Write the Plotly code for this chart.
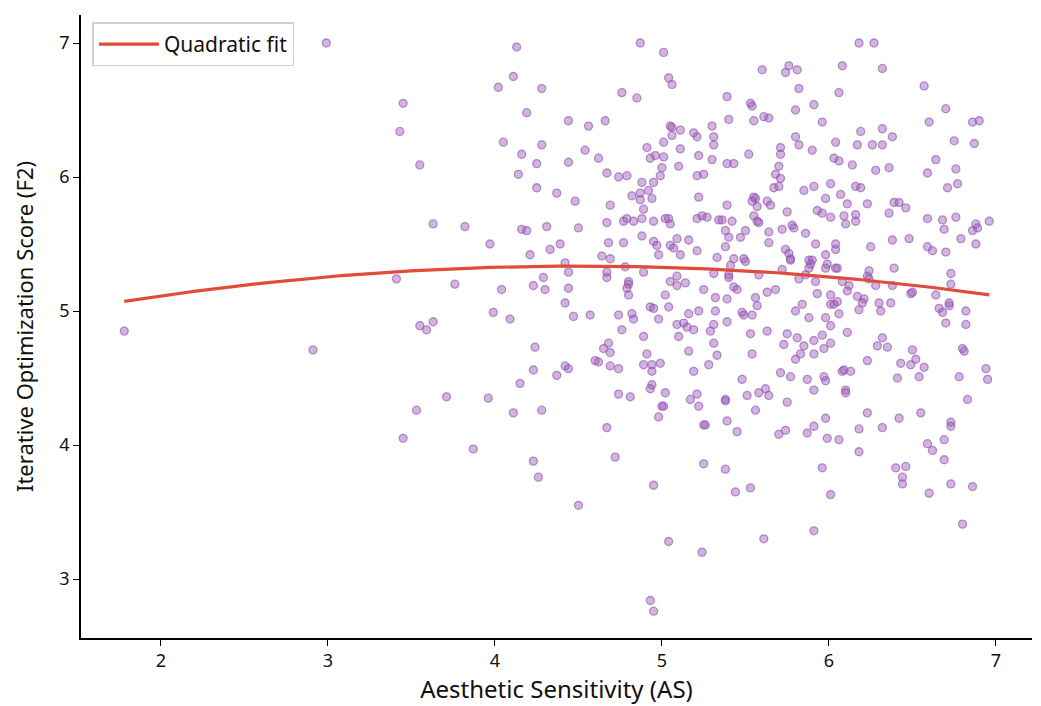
import numpy as np
import plotly.graph_objects as go

# Aesthetic Sensitivity (AS) values
AS = [
    2.99, 1.78, 2.91, 3.41,
    4.13, 4.87, 5.01, 5.04, 5.06, 4.11, 4.02, 4.28, 4.76, 4.85, 3.45, 4.19, 4.44, 4.56, 4.66, 3.43,
    5.05, 5.06, 5.11, 5.06, 5.19, 5.21, 5.30, 5.31, 5.31, 4.05, 4.28, 4.16, 4.25, 4.44, 4.54, 4.62,
    3.55, 4.14, 4.67, 4.74, 4.79, 4.91, 4.93, 4.96, 5.01, 5.01, 5.11, 5.10, 5.22, 5.30, 5.00, 4.99,
    5.21, 5.25, 4.88, 4.95, 4.92, 4.87, 4.82, 4.87, 4.94, 5.22, 4.25, 4.37, 4.48, 4.69, 4.89,
    3.63, 3.82, 4.16, 4.19, 4.31, 4.50, 4.67, 4.77, 4.79, 4.83, 4.88, 4.95, 5.02, 5.04, 5.05, 5.21,
    5.24, 5.27, 5.34,
    4.88, 4.95, 4.97, 5.05, 5.07, 5.09, 5.16, 5.21, 4.68, 4.77, 4.98, 5.11, 5.33, 3.97, 4.21, 4.33,
    4.39, 4.64, 4.69, 4.42, 4.44, 4.67, 4.67, 4.78, 4.89, 5.31, 3.76, 4.04, 4.23, 4.29, 4.30, 4.44,
    4.42, 4.80, 4.80, 4.79, 4.80, 5.05, 5.09, 5.09, 5.14, 5.25, 5.02, 5.32, 4.93, 4.95, 5.04, 5.32,
    3.99, 4.09, 4.47, 4.57, 4.74, 4.82, 4.83, 4.98, 5.16, 5.22, 3.55, 3.59, 3.63, 4.76, 5.09, 5.13,
    5.15, 5.19, 5.29, 5.31, 4.89, 5.10, 4.68, 4.65, 4.69, 5.31, 4.24, 4.91, 5.16, 5.33, 4.60, 4.62,
    4.69, 4.74, 4.42, 4.44, 4.23, 4.37, 4.15, 4.89, 4.94, 4.99, 4.94, 5.19, 5.28, 4.94, 4.93, 5.02,
    4.74, 4.81, 5.21, 5.17, 5.22, 5.00, 5.01, 4.98, 5.25, 5.26, 4.67, 3.71, 3.96, 3.53, 4.11, 4.28,
    6.18, 6.27, 5.60, 5.76, 5.74, 5.81, 6.08, 6.32, 5.82, 6.06, 6.57, 5.39, 5.53, 5.54, 5.91, 5.80,
    6.70, 5.40, 5.55, 5.61, 5.64, 5.96, 6.60, 6.86, 6.90, 6.19, 6.32, 6.38, 5.80, 5.82, 6.04, 6.17,
    6.26, 6.32, 5.71, 5.71, 5.52, 5.90, 6.75, 6.87, 6.03, 6.06, 6.14, 6.64, 5.39, 5.43, 5.70, 6.28,
    6.36, 6.76, 6.59, 5.68, 5.71, 5.67, 5.70, 5.85, 5.91, 6.01, 6.16, 6.19, 6.71, 6.77, 5.55, 5.56,
    5.54, 5.57, 5.63, 5.65, 5.39, 5.75, 5.98, 6.07, 6.11, 6.23, 5.93, 5.96, 6.01, 6.09, 6.16, 6.16,
    6.10, 6.36, 6.39, 6.42, 6.46, 6.59, 6.68, 6.76, 6.88, 6.96, 5.55, 5.57, 5.58, 5.36, 5.42, 5.78,
    5.38, 5.40, 5.47, 5.50, 5.64, 5.72, 5.79, 5.86, 5.64, 5.38, 5.92, 6.04, 6.04, 6.25, 6.38, 6.48,
    6.59, 6.62, 6.70, 6.69, 6.79, 6.88, 6.86, 6.89, 5.74, 5.76, 5.77, 5.77, 5.43, 5.49, 5.50, 5.98,
    5.88, 5.90, 5.89, 5.88, 5.99, 5.98, 6.04, 6.05, 5.41, 5.40, 5.40, 5.58, 5.72, 5.82, 5.86, 5.92,
    6.08, 6.24, 6.23, 6.24, 6.28, 6.39, 6.38, 6.73, 6.73, 6.12, 6.11, 5.43, 5.45, 5.63, 5.68, 5.93,
    6.01, 6.49, 6.50, 6.64, 5.56, 5.57, 5.39, 6.17, 6.21, 6.20, 6.18, 6.30, 6.31, 6.37, 6.01, 6.03,
    6.05, 5.84, 5.80, 6.06, 5.88, 5.98, 6.01, 5.48, 5.49, 5.54, 5.39, 6.66, 6.68, 6.72, 6.72, 6.82,
    6.70, 6.82, 5.53, 5.63, 5.75, 5.81, 5.85, 5.73, 5.91, 5.96, 6.01, 6.11, 5.97, 5.83, 5.91, 5.80,
    5.54, 6.32, 6.29, 6.35, 6.50, 6.52, 6.43, 6.49, 6.57, 6.23, 6.80, 6.81, 6.94, 6.95, 6.78, 6.54,
    6.41, 6.08, 6.09, 6.13, 5.97, 5.98, 5.87, 5.77, 5.71, 5.48, 5.91, 6.10, 6.10, 5.62, 5.58, 5.64,
    5.51, 5.38, 5.38, 5.75, 6.83, 5.56, 5.39, 6.23, 6.42, 6.55, 5.98, 5.91, 5.74, 5.70, 5.87, 6.18,
    6.32, 6.73, 6.73, 5.45,
    5.99, 6.06, 6.18, 6.59, 6.62, 6.69, 6.69, 5.38, 5.96, 6.40, 6.46, 6.44, 6.44, 6.60, 6.73, 6.86,
    5.44, 5.53, 6.01, 6.80, 5.61, 5.91,
    3.45, 3.87, 4.23, 4.26, 4.50, 4.72, 4.95, 5.25, 5.04, 5.24, 4.93, 4.95,
]

# Iterative Optimization Score (F2) values
F2 = [
    7.00, 4.85, 4.71, 5.24,
    6.97, 7.00, 6.93, 6.74, 6.69, 6.75, 6.67, 6.66, 6.63, 6.59, 6.55, 6.48, 6.42, 6.38, 6.42, 6.34,
    6.38, 6.37, 6.35, 6.31, 6.33, 6.30, 6.38, 6.30, 6.24, 6.26, 6.24, 6.17, 6.10, 6.11, 6.20, 6.14,
    6.09, 6.02, 6.03, 6.00, 6.01, 6.22, 6.14, 6.16, 6.15, 6.26, 6.21, 6.08, 6.16, 6.13, 6.07, 6.01,
    6.01, 6.02, 5.96, 5.96, 5.90, 5.88, 5.86, 5.83, 5.84, 5.85, 5.92, 5.88, 5.82, 5.79, 5.76,
    5.65, 5.63, 5.61, 5.60, 5.63, 5.62, 5.66, 5.67, 5.69, 5.67, 5.69, 5.67, 5.69, 5.69, 5.65, 5.69,
    5.71, 5.70, 5.68,
    5.56, 5.52, 5.49, 5.49, 5.47, 5.54, 5.53, 5.45, 5.51, 5.51, 5.42, 5.42, 5.40, 5.50, 5.42, 5.46,
    5.50, 5.41, 5.39, 5.36, 5.29, 5.29, 5.25, 5.33, 5.29, 5.28, 5.20, 5.16, 5.19, 5.25, 5.16, 5.17,
    5.06, 5.22, 5.20, 5.17, 5.12, 5.22, 5.26, 5.19, 5.21, 5.16, 5.12, 5.10, 5.03, 5.02, 5.03, 5.00,
    4.99, 4.94, 4.96, 4.97, 4.97, 4.98, 4.94, 4.94, 4.98, 5.00, 4.89, 4.86, 4.92, 4.86, 4.90, 4.91,
    4.88, 4.86, 4.85, 4.90, 4.81, 4.81, 4.76, 4.72, 4.69, 4.76, 4.73, 4.68, 4.70, 4.67, 4.63, 4.62,
    4.59, 4.57, 4.59, 4.57, 4.56, 4.52, 4.46, 4.60, 4.60, 4.61, 4.55, 4.55, 4.60, 4.45, 4.42, 4.39,
    4.38, 4.36, 4.38, 4.34, 4.29, 4.29, 4.29, 4.21, 4.15, 4.15, 4.13, 4.36, 4.35, 4.26, 4.24, 4.26,
    7.00, 7.00, 6.80, 6.83, 6.78, 6.80, 6.83, 6.81, 6.66, 6.63, 6.68, 6.60, 6.55, 6.53, 6.54, 6.50,
    6.51, 6.43, 6.42, 6.45, 6.44, 6.41, 6.41, 6.41, 6.42, 6.34, 6.36, 6.30, 6.30, 6.24, 6.26, 6.24,
    6.24, 6.24, 6.22, 6.17, 6.17, 6.20, 6.27, 6.25, 6.14, 6.12, 6.09, 6.13, 6.10, 6.10, 6.08, 6.05,
    6.07, 6.06, 6.03, 6.02, 5.99, 5.92, 5.93, 5.90, 5.93, 5.95, 5.93, 5.92, 5.92, 5.95, 5.85, 5.84,
    5.82, 5.78, 5.82, 5.79, 5.79, 5.74, 5.84, 5.87, 5.80, 5.80, 5.75, 5.73, 5.70, 5.71, 5.72, 5.67,
    5.65, 5.73, 5.81, 5.81, 5.77, 5.69, 5.68, 5.70, 5.65, 5.67, 5.71, 5.67, 5.66, 5.68, 5.67, 5.64,
    5.60, 5.55, 5.55, 5.60, 5.59, 5.61, 5.62, 5.58, 5.51, 5.48, 5.50, 5.50, 5.46, 5.48, 5.53, 5.54,
    5.48, 5.45, 5.44, 5.61, 5.54, 5.50, 5.60, 5.62, 5.46, 5.43, 5.39, 5.38, 5.39, 5.39, 5.37, 5.42,
    5.38, 5.38, 5.35, 5.32, 5.35, 5.32, 5.32, 5.32, 5.34, 5.27, 5.25, 5.27, 5.31, 5.24, 5.27, 5.22,
    5.22, 5.30, 5.26, 5.24, 5.19, 5.32, 5.19, 5.28, 5.20, 5.19, 5.15, 5.18, 5.16, 5.14, 5.16, 5.13,
    5.12, 5.13, 5.14, 5.12, 5.10, 5.04, 5.09, 5.11, 5.09, 5.06, 5.01, 5.06, 5.00, 5.06, 5.05, 5.05,
    5.07, 5.05, 5.00, 4.98, 4.95, 4.95, 4.89, 4.99, 4.97, 4.97, 4.92, 5.02, 4.99, 5.04, 5.06, 5.00,
    4.91, 4.90, 4.83, 4.85, 4.83, 4.80, 4.74, 4.75, 4.78, 4.82, 4.76, 4.84, 4.72, 4.68, 4.68, 4.64,
    4.68, 4.80, 4.74, 4.73, 4.71, 4.64, 4.61, 4.60, 4.58, 4.63, 4.72, 4.70, 4.57, 4.49, 4.51, 4.51,
    4.50, 4.55, 4.56, 4.55, 4.51, 4.48, 4.49, 4.51, 4.54, 4.49, 4.41, 4.41, 4.39, 4.42, 4.39, 4.37,
    4.37, 4.34, 4.33, 4.32, 4.34, 4.26, 4.18, 4.24, 4.20, 4.24, 4.20, 4.14, 4.11, 4.08, 4.09, 4.12,
    4.13, 4.17, 4.14, 4.10,
    4.05, 4.04, 3.95, 4.01, 3.96, 4.04, 3.89, 3.82, 3.83, 3.83, 3.84, 3.76, 3.71, 3.64, 3.71, 3.69,
    3.65, 3.68, 3.63, 3.41, 3.30, 3.36,
    4.05, 3.97, 3.88, 3.76, 3.55, 3.91, 3.70, 3.86, 3.28, 3.20, 2.84, 2.76,
]

X_TICKS = [2, 3, 4, 5, 6, 7]
Y_TICKS = [3, 4, 5, 6, 7]

x = np.array(AS)
y = np.array(F2)
coef = np.polyfit(x, y, 2)
xs = np.linspace(x.min(), x.max(), 200)
ys = np.polyval(coef, xs)

fig = go.Figure()
fig.add_trace(go.Scatter(
    x=AS, y=F2, mode="markers", showlegend=False,
    marker=dict(size=8, color="rgba(155,89,182,0.45)",
                line=dict(color="rgba(140,80,175,0.6)", width=1.3)),
))
fig.add_trace(go.Scatter(
    x=xs, y=ys, mode="lines", name="Quadratic fit",
    line=dict(color="#e04b3a", width=3.2),
))

fig.update_layout(
    width=1041, height=706,
    margin=dict(l=81, r=9, t=15, b=68),
    paper_bgcolor="white", plot_bgcolor="white",
    font=dict(family="Noto Sans, Open Sans, sans-serif", size=18, color="#111"),
    legend=dict(x=0.012, y=0.988, xanchor="left", yanchor="top",
                bgcolor="white", bordercolor="#d0d0d0", borderwidth=1.5,
                font=dict(size=21), itemwidth=60),
    xaxis=dict(range=[1.521, 7.216], tickvals=X_TICKS, showgrid=False, zeroline=False,
               showline=True, linecolor="black", linewidth=1.6, ticks="outside",
               ticklen=6, tickcolor="black", tickwidth=1.4,
               title=dict(text="Aesthetic Sensitivity (AS)", font=dict(size=24), standoff=8)),
    yaxis=dict(range=[2.56, 7.209], tickvals=Y_TICKS, showgrid=False, zeroline=False,
               showline=True, linecolor="black", linewidth=1.6, ticks="outside",
               ticklen=6, tickcolor="black", tickwidth=1.4,
               title=dict(text="Iterative Optimization Score (F2)", font=dict(size=22), standoff=20)),
)

fig.write_html("out.html")
